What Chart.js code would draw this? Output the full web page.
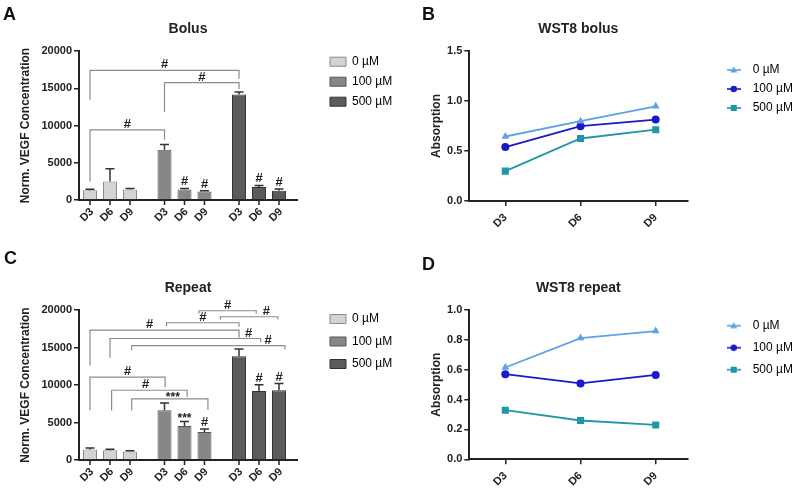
<!DOCTYPE html>
<html><head><meta charset="utf-8">
<script src="https://cdn.jsdelivr.net/npm/chart.js@4.4.1/dist/chart.umd.min.js"></script>
<style>
html,body{margin:0;padding:0;background:#fff;}
body{width:799px;height:490px;position:relative;overflow:hidden;}
.panel{position:absolute;}
</style></head><body>
<div class="panel" style="left:0;top:0;width:400px;height:245px"><canvas id="cA"></canvas></div>
<div class="panel" style="left:400px;top:0;width:399px;height:245px"><canvas id="cB"></canvas></div>
<div class="panel" style="left:0;top:245px;width:400px;height:245px"><canvas id="cC"></canvas></div>
<div class="panel" style="left:400px;top:245px;width:399px;height:245px"><canvas id="cD"></canvas></div>
<script>
// ---------------- DATA ----------------
const days = ['D3', 'D6', 'D9'];
const concentrations = ['0 µM', '100 µM', '500 µM'];

// Panel A: Bolus, Norm. VEGF concentration (mean, upper error)
const bolus0 = [1300, 2500, 1400];
const bolus0Err = [150, 1700, 150];
const bolus100 = [6750, 1400, 1150];
const bolus100Err = [700, 150, 100];
const bolus500 = [14150, 1750, 1250];
const bolus500Err = [350, 200, 220];

// Panel C: Repeat
const repeat0 = [1400, 1300, 1150];
const repeat0Err = [200, 130, 80];
const repeat100 = [6650, 4550, 3750];
const repeat100Err = [950, 600, 400];
const repeat500 = [13850, 9200, 9300];
const repeat500Err = [950, 850, 900];

// Panel B: WST8 bolus (absorption)
const wstBolus0 = [0.645, 0.798, 0.947];
const wstBolus100 = [0.539, 0.748, 0.814];
const wstBolus500 = [0.299, 0.625, 0.713];

// Panel D: WST8 repeat
const wstRepeat0 = [0.615, 0.812, 0.859];
const wstRepeat100 = [0.570, 0.508, 0.565];
const wstRepeat500 = [0.329, 0.260, 0.230];

// Significance annotations: [fromBar, toBar, bracketTop, leftLegEnd, rightLegEnd, label, labelPos]
// bar index = concentrationGroup*3 + day
const bolusBrackets = [
  [0, 6, 17400, 13450, 16250, '#', 0.5],
  [3, 6, 15750, 11800, 14900, '#', 0.5],
  [0, 3, 9400, 2500, 8100, '#', 0.5]
];
const bolusBarMarks = [[4, '#'], [5, '#'], [7, '#'], [8, '#']];
const repeatBrackets = [
  [0, 6, 17310, 12600, 16330, '#', 0.4],
  [1, 7.08, 16200, 13600, 15750, '#', 0.92],
  [2.05, 8.3, 15260, 14650, 14720, '#', 0.89],
  [3.1, 6, 18300, 17850, 17760, '#', 0.5],
  [4.72, 6.86, 19900, 19550, 19550, '#', 0.5],
  [5.46, 7.94, 19100, 18750, 18750, '#', 0.8],
  [0, 3.03, 11050, 6650, 9700, '#', 0.5],
  [1.08, 4.13, 9300, 6600, 8400, '#', 0.45],
  [2.05, 5.1, 8140, 6600, 6700, '***', 0.54]
];
const repeatBarMarks = [[4, '***'], [5, '#'], [7, '#'], [8, '#']];

// ---------------- STYLE ----------------
const FONT = "'Liberation Sans', Arial, Helvetica, sans-serif";
Chart.defaults.font.family = FONT;
Chart.defaults.color = '#222';
const barFill = ['#d4d4d4', '#878787', '#5b5b5b'];
const barBorder = ['#8a8a8a', '#555555', '#333333'];
const lineColors = ['#5ea1e6', '#1818cc', '#2097a8'];
const lineStyles = ['triangle', 'circle', 'rect'];
const pointRadii = [4.5, 4, 5];
const AXIS = '#222';

function placeLegend(left, top) {
  return { id: 'placeLegend', afterLayout(chart) {
    const l = chart.legend; if (!l) return;
    l.left = left; l.top = top; l.width = 130; l.height = 120;
    l.right = left + 130; l.bottom = top + 120;
  }};
}
function letterPlugin(letter, x, y) {
  return { id: 'panelLetter', afterDraw(chart) {
    const ctx = chart.ctx; ctx.save();
    ctx.font = 'bold 18px ' + FONT; ctx.fillStyle = '#111';
    ctx.textAlign = 'left'; ctx.textBaseline = 'alphabetic';
    ctx.fillText(letter, x, y); ctx.restore();
  }};
}
function categoryPlacement(start, range) {
  return (s) => { s._startValue = start; s._valueRange = range; };
}

function barX(chart, idx) {
  const pos = (i) => chart.getDatasetMeta(i % 3).data[Math.floor(i / 3)].x;
  let i0 = Math.floor(idx);
  if (i0 >= 8) i0 = 7;
  const f = idx - i0;
  return pos(i0) + f * (pos(i0 + 1) - pos(i0));
}
function drawLabel(ctx, text, x, bottomY) {
  ctx.font = (text === '***' ? 'bold 12px ' : 'bold 13px ') + FONT;
  const m = ctx.measureText(text);
  ctx.textAlign = 'center'; ctx.textBaseline = 'alphabetic';
  ctx.fillText(text, x, bottomY - m.actualBoundingBoxDescent);
}
function annotationPlugin(brackets, marks) {
  return { id: 'annot', afterDatasetsDraw(chart) {
    const ctx = chart.ctx, ys = chart.scales.y;
    ctx.save();
    // error bars (upper whisker)
    ctx.strokeStyle = '#333'; ctx.lineWidth = 1.5;
    chart.data.datasets.forEach((ds, di) => {
      chart.getDatasetMeta(di).data.forEach((bar, gi) => {
        const top = ys.getPixelForValue(ds.data[gi] + ds.errors[gi]);
        ctx.beginPath();
        ctx.moveTo(bar.x, bar.y); ctx.lineTo(bar.x, top);
        ctx.moveTo(bar.x - 4.5, top); ctx.lineTo(bar.x + 4.5, top);
        ctx.stroke();
      });
    });
    // brackets
    ctx.strokeStyle = '#8c8c8c'; ctx.lineWidth = 1.2; ctx.fillStyle = '#222';
    brackets.forEach(b => {
      const x1 = barX(chart, b[0]), x2 = barX(chart, b[1]);
      const yt = ys.getPixelForValue(b[2]);
      ctx.beginPath();
      ctx.moveTo(x1, ys.getPixelForValue(b[3])); ctx.lineTo(x1, yt);
      ctx.lineTo(x2, yt); ctx.lineTo(x2, ys.getPixelForValue(b[4]));
      ctx.stroke();
      drawLabel(ctx, b[5], x1 + (x2 - x1) * b[6], yt - 2);
    });
    // marks above bars
    marks.forEach(m => {
      const g = Math.floor(m[0] / 3), d = m[0] % 3;
      const ds = chart.data.datasets[d];
      const bar = chart.getDatasetMeta(d).data[g];
      const top = ys.getPixelForValue(ds.data[g] + ds.errors[g]);
      drawLabel(ctx, m[1], bar.x, top - 3);
    });
    ctx.restore();
  }};
}
function xLabelPlugin() {
  return { id: 'xlabels', afterDraw(chart) {
    const ctx = chart.ctx, bottom = chart.chartArea.bottom;
    ctx.save();
    ctx.strokeStyle = AXIS; ctx.lineWidth = 1.5; ctx.fillStyle = '#222';
    ctx.font = 'bold 11px ' + FONT;
    chart.data.datasets.forEach((ds, di) => {
      chart.getDatasetMeta(di).data.forEach(bar => {
        ctx.beginPath(); ctx.moveTo(bar.x, bottom); ctx.lineTo(bar.x, bottom + 5); ctx.stroke();
        ctx.save();
        ctx.translate(bar.x + 2, bottom + 10);
        ctx.rotate(-Math.PI / 4);
        ctx.textAlign = 'right'; ctx.textBaseline = 'middle';
        ctx.fillText(ds.label, 0, 0);
        ctx.restore();
      });
    });
    ctx.restore();
  }};
}

function makeBarChart(id, o) {
  const datasets = days.map((d, di) => ({
    label: d,
    data: o.values.map(arr => arr[di]),
    errors: o.errors.map(arr => arr[di]),
    backgroundColor: barFill, borderColor: barBorder, borderWidth: 1,
    categoryPercentage: 0.805, barPercentage: 0.7
  }));
  return new Chart(document.getElementById(id), {
    type: 'bar',
    data: { labels: concentrations, datasets },
    options: {
      responsive: true, maintainAspectRatio: false, animation: false,
      layout: { padding: { left: 0, right: 103, top: 0, bottom: 0 } },
      plugins: {
        title: { display: true, text: o.title, fullSize: false, font: { size: 14, weight: 'bold' }, color: '#222', padding: o.titlePad },
        legend: {
          position: 'chartArea', align: 'start',
          labels: {
            boxWidth: 16, boxHeight: 9, padding: o.legendPadding, color: '#333', font: { size: 12 },
            generateLabels: () => concentrations.map((c, i) => ({
              text: c, fillStyle: barFill[i], strokeStyle: barBorder[i], lineWidth: 1, hidden: false, datasetIndex: 0
            }))
          }
        },
        tooltip: { enabled: false }
      },
      scales: {
        x: {
          ticks: { display: false }, grid: { display: false },
          border: { display: true, color: AXIS, width: 2 },
          afterFit: (s) => { s.height = o.xHeight; },
          afterBuildTicks: categoryPlacement(-0.416, 2.926)
        },
        y: {
          min: 0, max: 20000,
          ticks: { stepSize: 5000, font: { size: 11, weight: 'bold' }, color: '#222', padding: 2, callback: v => String(v) },
          grid: { drawOnChartArea: false, color: AXIS, lineWidth: 1.5, tickLength: 5 },
          border: { color: AXIS, width: 2 },
          title: { display: true, text: 'Norm. VEGF Concentration', font: { size: 12, weight: 'bold' }, color: '#222', padding: { top: 18.8, bottom: 0 } },
          afterFit: (s) => { s.width = 79; }
        }
      }
    },
    plugins: [annotationPlugin(o.brackets, o.marks), xLabelPlugin(), placeLegend(o.legendLeft, o.legendTop), letterPlugin(o.letter, o.lx, o.ly)]
  });
}

function legendIcon(color, style) {
  const c = document.createElement('canvas'); c.width = 14; c.height = 10;
  const x = c.getContext('2d');
  x.strokeStyle = color; x.fillStyle = color; x.lineWidth = 1.6;
  x.beginPath(); x.moveTo(0, 5); x.lineTo(14, 5); x.stroke();
  x.beginPath();
  if (style === 'circle') { x.arc(7, 5, 3.2, 0, Math.PI * 2); }
  else if (style === 'rect') { x.rect(4, 2, 6, 6); }
  else { x.moveTo(7, 1.5); x.lineTo(10.5, 7.5); x.lineTo(3.5, 7.5); x.closePath(); }
  x.fill();
  return c;
}

function makeLineChart(id, o) {
  const datasets = o.series.map((s, i) => ({
    label: concentrations[i], data: s,
    borderColor: lineColors[i], backgroundColor: lineColors[i],
    pointStyle: lineStyles[i], pointRadius: pointRadii[i], pointBorderWidth: 0,
    borderWidth: 1.8, tension: 0
  }));
  return new Chart(document.getElementById(id), {
    type: 'line',
    data: { labels: days, datasets },
    options: {
      responsive: true, maintainAspectRatio: false, animation: false,
      layout: { padding: { left: 0, right: 111.7, top: 0, bottom: 0 } },
      plugins: {
        title: { display: true, text: o.title, fullSize: false, font: { size: 14, weight: 'bold' }, color: '#222', padding: o.titlePad },
        legend: {
          position: 'chartArea', align: 'start',
          labels: {
            usePointStyle: true, pointStyleWidth: 26, boxHeight: 10, padding: o.legendPadding, color: '#333', font: { size: 12 },
            generateLabels: () => concentrations.map((c, i) => ({
              text: c, pointStyle: legendIcon(lineColors[i], lineStyles[i]), fillStyle: lineColors[i], strokeStyle: lineColors[i], lineWidth: 0, hidden: false, datasetIndex: i
            }))
          }
        },
        tooltip: { enabled: false }
      },
      scales: {
        x: {
          ticks: { font: { size: 11, weight: 'bold' }, color: '#222', minRotation: 45, maxRotation: 45, padding: 5 },
          grid: { drawOnChartArea: false, color: AXIS, lineWidth: 1.5, tickLength: 5 },
          border: { color: AXIS, width: 2 },
          afterFit: (s) => { s.height = o.xHeight; },
          afterBuildTicks: categoryPlacement(-0.479, 2.899)
        },
        y: {
          min: 0, max: o.yMax,
          ticks: { stepSize: o.yStep, font: { size: 11, weight: 'bold' }, color: '#222', padding: 2, callback: v => Number(v).toFixed(1) },
          grid: { drawOnChartArea: false, color: AXIS, lineWidth: 1.5, tickLength: 5 },
          border: { color: AXIS, width: 2 },
          title: { display: true, text: 'Absorption', font: { size: 12, weight: 'bold' }, color: '#222', padding: { top: 29.5, bottom: 0 } },
          afterFit: (s) => { s.width = 69.3; }
        }
      }
    },
    plugins: [placeLegend(o.legendLeft, o.legendTop), letterPlugin(o.letter, o.lx, o.ly)]
  });
}

makeBarChart('cA', {
  title: 'Bolus', titlePad: { top: 20.6, bottom: 13.6 },
  values: [bolus0, bolus100, bolus500], errors: [bolus0Err, bolus100Err, bolus500Err],
  brackets: bolusBrackets, marks: bolusBarMarks, xHeight: 45,
  legendLeft: 322, legendTop: 47.7, legendPadding: 8,
  letter: 'A', lx: 3, ly: 20
});
makeBarChart('cC', {
  title: 'Repeat', titlePad: { top: 34.6, bottom: 13.6 },
  values: [repeat0, repeat100, repeat500], errors: [repeat0Err, repeat100Err, repeat500Err],
  brackets: repeatBrackets, marks: repeatBarMarks, xHeight: 30,
  legendLeft: 319.5, legendTop: 57.5, legendPadding: 10.5,
  letter: 'C', lx: 4, ly: 19
});
makeLineChart('cB', {
  title: 'WST8 bolus', titlePad: { top: 20.6, bottom: 13.6 },
  series: [wstBolus0, wstBolus100, wstBolus500], yMax: 1.5, yStep: 0.5, xHeight: 44,
  legendLeft: 313.7, legendTop: 57, legendPadding: 7,
  letter: 'B', lx: 22, ly: 20
});
makeLineChart('cD', {
  title: 'WST8 repeat', titlePad: { top: 34.9, bottom: 13.3 },
  series: [wstRepeat0, wstRepeat100, wstRepeat500], yMax: 1.0, yStep: 0.2, xHeight: 30.7,
  legendLeft: 310.7, legendTop: 64.7, legendPadding: 10,
  letter: 'D', lx: 22, ly: 25
});
</script>
</body></html>
